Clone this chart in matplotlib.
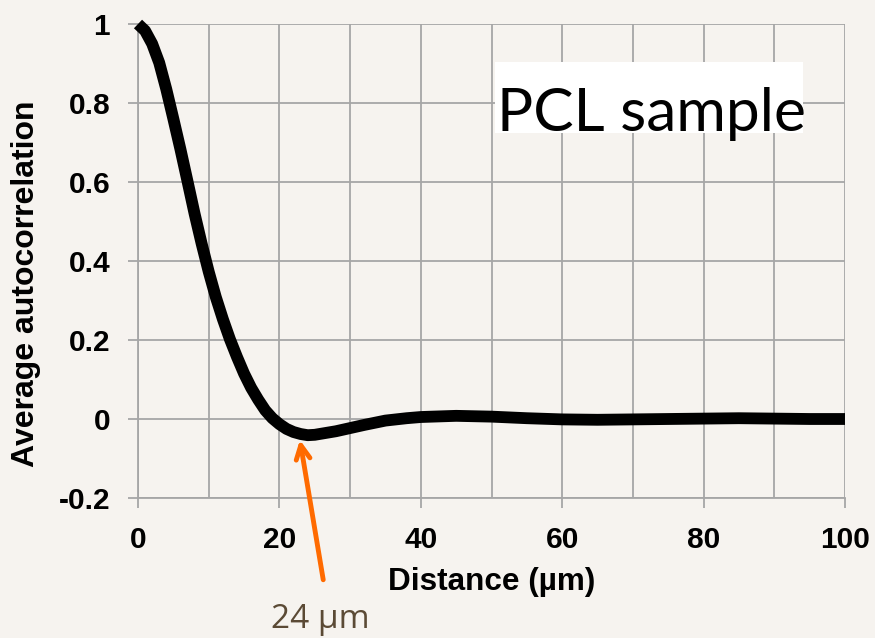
import numpy as np
import matplotlib
matplotlib.use("Agg")
import matplotlib.pyplot as plt
from matplotlib.patches import Rectangle

# Data
distance = [0, 1, 2, 3, 4, 5, 6, 7, 8, 9, 10, 11, 12, 13, 14, 15, 16, 17, 18, 19,
            20, 21, 22, 23, 24, 25, 26, 28, 30, 32, 35, 38, 40, 45, 50, 55, 60, 65,
            70, 75, 80, 85, 90, 95, 100]
autocorr = [1.0, 0.983, 0.95, 0.902, 0.835, 0.76, 0.683, 0.602, 0.52, 0.444,
            0.373, 0.309, 0.253, 0.202, 0.157, 0.115, 0.079, 0.049, 0.022, 0.002,
            -0.013, -0.025, -0.033, -0.038, -0.041, -0.040, -0.037, -0.031, -0.023, -0.015,
            -0.004, 0.002, 0.005, 0.008, 0.006, 0.002, -0.001, -0.002,
            -0.001, 0.0, 0.001, 0.002, 0.001, 0.0, 0.0]
x_ticks = [0, 20, 40, 60, 80, 100]
y_ticks = [-0.2, 0, 0.2, 0.4, 0.6, 0.8, 1]
y_tick_labels = ["-0.2", "0", "0.2", "0.4", "0.6", "0.8", "1"]
arrow_tip = (22.9, -0.053)
arrow_tail = (26.2, -0.407)
annotation_text = "24 µm"
sample_label = "PCL sample"

W, H = 875, 638
fig = plt.figure(figsize=(W / 100, H / 100), dpi=100)
fig.patch.set_facecolor("#f6f3ef")

ax = fig.add_axes([138 / W, 1 - 498 / H, (845 - 138) / W, (498 - 24) / H])
ax.set_facecolor("none")

grid_c = "#a6a6a6"
ax.set_xlim(0, 100)
ax.set_ylim(-0.2, 1)
ax.set_xticks(x_ticks)
ax.set_xticks(np.arange(0, 101, 10), minor=True)
ax.set_yticks(y_ticks)
ax.set_yticklabels(y_tick_labels)
ax.grid(True, which="both", axis="x", color=grid_c, lw=1.3)
ax.grid(True, which="major", axis="y", color=grid_c, lw=1.3)
ax.set_axisbelow(True)
ax.tick_params(axis="x", which="minor", length=0)
ax.tick_params(axis="both", which="major", direction="out", length=7, width=1.3,
               color=grid_c, pad=13, labelsize=21.5)
for lab in ax.get_xticklabels() + ax.get_yticklabels():
    lab.set_fontweight("bold")
    lab.set_fontfamily("Liberation Sans")
for s in ["top", "right"]:
    ax.spines[s].set_visible(False)
for s in ["left", "bottom"]:
    ax.spines[s].set_color(grid_c)
    ax.spines[s].set_linewidth(1.3)

ax.plot(distance, autocorr, color="black", lw=8.5, solid_capstyle="butt",
        solid_joinstyle="round", clip_on=False, zorder=5)

# X label
fig.text(492 / W, 1 - 590 / H, "Distance (µm)", ha="center", va="baseline",
         fontsize=22.7, fontweight="bold", family="Liberation Sans")
# Y label
fig.text(26 / W, 1 - 284 / H, "Average autocorrelation", ha="center", va="center",
         rotation=90, fontsize=23, fontweight="bold", family="Liberation Sans")

# Sample label box
fig.patches.append(Rectangle((495 / W, 1 - 133 / H), (803 - 495) / W, (133 - 62) / H,
                             transform=fig.transFigure, facecolor="white",
                             edgecolor="none", zorder=6))
fig.text(497 / W, 1 - 131 / H, sample_label, ha="left", va="baseline",
         fontsize=43.5, family="Lato", color="black", zorder=7)

# Orange arrow to minimum
ax.annotate("", xy=arrow_tip, xytext=arrow_tail,
            xycoords="data", textcoords="data", annotation_clip=False,
            arrowprops=dict(arrowstyle="->,head_length=1.0,head_width=0.5",
                            color="#ff6a00", lw=3.5, shrinkA=0, shrinkB=0),
            zorder=8)
fig.text(271 / W, 1 - 628 / H, annotation_text, ha="left", va="baseline",
         fontsize=24, family="Open Sans", color="#5b4a35")

fig.savefig("out.png", dpi=100, facecolor=fig.get_facecolor())
